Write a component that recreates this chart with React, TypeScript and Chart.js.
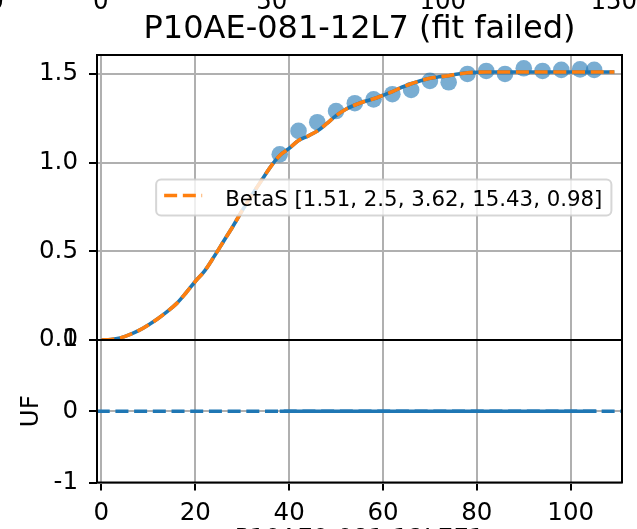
import React, { useEffect, useRef } from "react";
import { Chart, registerables } from "chart.js";

Chart.register(...registerables);

// ---- text ----
const TITLE = "P10AE-081-12L7 (fit failed)";
const X_LABEL = "P10AE0-081-12L7E1";
const LEGEND_LABEL = "BetaS [1.51, 2.5, 3.62, 15.43, 0.98]";
const UF_LABEL = "UF";

// ---- measured points (scatter) ----
const pointX = [38, 42, 46, 50, 54, 58, 62, 66, 70, 74, 78, 82, 86, 90, 94, 98, 102, 105];
const pointY = [1.047, 1.179, 1.228, 1.291, 1.335, 1.357, 1.386, 1.41, 1.461, 1.453, 1.5, 1.517, 1.5, 1.532, 1.517, 1.523, 1.526, 1.523];

// ---- data curve / fit curve (overlapping) ----
const curveX = [0, 2, 4, 6, 8, 10, 12, 14, 16, 18, 20, 22, 24, 26, 28, 30, 32, 34, 36, 38, 40, 42, 44, 46, 48, 50, 52, 54, 56, 58, 60, 62, 64, 66, 68, 70, 72, 74, 76, 78, 80, 82, 86, 90, 95, 100, 105, 109.3];
const curveY = [0, 0.003, 0.012, 0.03, 0.054, 0.085, 0.12, 0.16, 0.205, 0.265, 0.33, 0.39, 0.47, 0.555, 0.64, 0.73, 0.815, 0.895, 0.975, 1.04, 1.08, 1.125, 1.15, 1.178, 1.22, 1.265, 1.3, 1.325, 1.345, 1.36, 1.38, 1.4, 1.425, 1.445, 1.462, 1.476, 1.484, 1.49, 1.5, 1.507, 1.51, 1.511, 1.511, 1.511, 1.511, 1.511, 1.511, 1.511];

// ---- UF panel ----
const ufAxhX = [-1, 112];
const ufAxhY = [0, 0];
const ufResX = [38, 105.5];
const ufResY = [0, 0];

// ---- axes ----
const xTicks = [0, 20, 40, 60, 80, 100];
const xMin = -0.94;
const xMax = 110.93;
const yTicks = [0, 0.5, 1.0, 1.5];
const yTickLabels = ["0.0", "0.5", "1.0", "1.5"];
const yMin = 0;
const yMax = 1.607;
const ufTicks = [-1, 0, 1];
const ufTickLabels = ["-1", "0", "1"];
const ufMin = -1;
const ufMax = 1;
// partial tick labels of the (cropped) panel above
const topTicks = [0, 50, 100, 150];
const topTickLabels = ["0", "50", "100", "150"];
const topMin = -1.1;
const topMax = 152.4;

const BLUE = "#1f77b4";
const ORANGE = "#ff7f0e";
const FONT = '"DejaVu Sans", "Liberation Sans", sans-serif';
const TICK_SIZE = 24.5;

const toXY = (xs: number[], ys: number[]) => xs.map((x, i) => ({ x, y: ys[i] }));

const decorPlugin = {
  id: "decor",
  afterDatasetsDraw(chart: any) {
    const { ctx, chartArea } = chart;
    const yMain = chart.scales.y;
    const yUF = chart.scales.yUF;
    const xTop = chart.scales.xTop;
    ctx.save();
    // spines
    ctx.strokeStyle = "#000";
    ctx.lineWidth = 2;
    for (const s of [yMain, yUF]) {
      ctx.strokeRect(chartArea.left, s.top, chartArea.right - chartArea.left, s.bottom - s.top);
    }
    // legend
    ctx.font = `21.3px ${FONT}`;
    const tw = ctx.measureText(LEGEND_LABEL).width;
    const w = tw + 78;
    const h = 36;
    const x1 = chartArea.right - 10.6;
    const x0 = x1 - w;
    const cy = (yMain.top + yMain.bottom) / 2;
    const y0 = cy - h / 2;
    ctx.beginPath();
    (ctx as any).roundRect(x0, y0, w, h, 5);
    ctx.fillStyle = "rgba(255,255,255,0.8)";
    ctx.fill();
    ctx.strokeStyle = "rgba(204,204,204,0.8)";
    ctx.lineWidth = 2;
    ctx.stroke();
    ctx.beginPath();
    ctx.setLineDash([13, 5.7]);
    ctx.strokeStyle = ORANGE;
    ctx.lineWidth = 3.5;
    ctx.moveTo(x0 + 8, cy - 2);
    ctx.lineTo(x0 + 46, cy - 2);
    ctx.stroke();
    ctx.setLineDash([]);
    ctx.fillStyle = "#000";
    ctx.textAlign = "left";
    ctx.textBaseline = "alphabetic";
    ctx.fillText(LEGEND_LABEL, x0 + 69, cy + 8);
    // title
    ctx.font = `32px ${FONT}`;
    ctx.textAlign = "center";
    ctx.fillText(TITLE, (chartArea.left + chartArea.right) / 2, 38.3);
    // cropped tick labels of the panel above, placed by the top scale
    ctx.font = `${TICK_SIZE}px ${FONT}`;
    topTicks.forEach((v, i) => {
      ctx.fillText(topTickLabels[i], xTop.getPixelForValue(v), 9);
    });
    // fragment of a label of a neighbouring panel
    ctx.fillText("0", -4, 9);
    // x label (cropped at the bottom of the picture)
    ctx.fillText(X_LABEL, (chartArea.left + chartArea.right) / 2, 545.5);
    ctx.restore();
  },
};

export default function App() {
  const ref = useRef<HTMLCanvasElement>(null);
  useEffect(() => {
    document.body.style.margin = "0";
    const tickFont = { family: FONT, size: TICK_SIZE };
    const noSidePad = (s: any) => {
      s.paddingLeft = 0;
      s.paddingRight = 0;
    };
    const chart = new Chart(ref.current as HTMLCanvasElement, {
      type: "line",
      data: {
        datasets: [
          {
            label: LEGEND_LABEL,
            data: toXY(curveX, curveY),
            xAxisID: "x",
            yAxisID: "y",
            borderColor: ORANGE,
            borderWidth: 3.6,
            borderDash: [13, 5.7],
            pointRadius: 0,
            cubicInterpolationMode: "monotone",
            fill: false,
          },
          {
            label: "data",
            data: toXY(curveX, curveY),
            xAxisID: "x",
            yAxisID: "y",
            borderColor: BLUE,
            borderWidth: 3.6,
            pointRadius: 0,
            cubicInterpolationMode: "monotone",
            fill: false,
          },
          {
            label: "points",
            type: "scatter",
            data: toXY(pointX, pointY),
            xAxisID: "x",
            yAxisID: "y",
            backgroundColor: "rgba(31,119,180,0.6)",
            borderWidth: 0,
            pointRadius: 8.3,
            showLine: false,
          },
          {
            label: "uf-res",
            data: toXY(ufResX, ufResY),
            xAxisID: "x",
            yAxisID: "yUF",
            borderColor: BLUE,
            borderWidth: 3.6,
            pointRadius: 0,
            fill: false,
          },
          {
            label: "uf-axh",
            data: toXY(ufAxhX, ufAxhY),
            xAxisID: "x",
            yAxisID: "yUF",
            borderColor: BLUE,
            borderWidth: 3.6,
            borderDash: [13, 5.7],
            pointRadius: 0,
            fill: false,
          },
        ] as any,
      },
      options: {
        responsive: false,
        animation: false,
        events: [],
        layout: { padding: { left: 0, right: 15, top: 0, bottom: 0 } },
        plugins: { legend: { display: false }, tooltip: { enabled: false }, title: { display: false } },
        scales: {
          x: {
            type: "linear",
            position: "bottom",
            min: xMin,
            max: xMax,
            afterBuildTicks: (s: any) => {
              s.ticks = xTicks.map((v) => ({ value: v }));
            },
            afterFit: (s: any) => {
              s.height = 46.5;
              noSidePad(s);
            },
            grid: { color: "#b0b0b0", lineWidth: 2, tickColor: "#000", tickWidth: 2, tickLength: 8 },
            border: { display: false },
            ticks: {
              font: tickFont,
              color: "#000",
              padding: 8,
              maxRotation: 0,
              minRotation: 0,
              autoSkip: false,
              callback: (v: any) => String(v),
            },
          },
          xTop: {
            type: "linear",
            position: "top",
            min: topMin,
            max: topMax,
            afterBuildTicks: (s: any) => {
              s.ticks = topTicks.map((v) => ({ value: v }));
            },
            afterFit: (s: any) => {
              s.height = 55;
              noSidePad(s);
            },
            grid: { display: false },
            border: { display: false },
            ticks: { display: false },
          },
          y: {
            type: "linear",
            position: "left",
            stack: "panels",
            stackWeight: 2,
            weight: 1,
            min: yMin,
            max: yMax,
            afterBuildTicks: (s: any) => {
              s.ticks = yTicks.map((v) => ({ value: v }));
            },
            afterFit: (s: any) => {
              s.width = 97;
            },
            grid: { color: "#b0b0b0", lineWidth: 2, tickColor: "#000", tickWidth: 2, tickLength: 8 },
            border: { display: false },
            ticks: {
              font: tickFont,
              color: "#000",
              padding: 11,
              autoSkip: false,
              callback: (_v: any, i: number) => yTickLabels[i],
            },
          },
          yUF: {
            type: "linear",
            position: "left",
            stack: "panels",
            stackWeight: 1,
            weight: 0,
            min: ufMin,
            max: ufMax,
            afterBuildTicks: (s: any) => {
              s.ticks = ufTicks.map((v) => ({ value: v }));
            },
            afterFit: (s: any) => {
              s.width = 97;
            },
            grid: { color: "#b0b0b0", lineWidth: 2, tickColor: "#000", tickWidth: 2, tickLength: 8 },
            border: { display: false },
            title: {
              display: true,
              text: UF_LABEL,
              color: "#000",
              font: { family: FONT, size: TICK_SIZE },
              padding: { top: 17, bottom: 0 },
            },
            ticks: {
              font: tickFont,
              color: "#000",
              padding: 11,
              autoSkip: false,
              callback: (_v: any, i: number) => ufTickLabels[i],
            },
          },
        },
      } as any,
      plugins: [decorPlugin],
    });
    return () => chart.destroy();
  }, []);
  return (
    <div style={{ position: "fixed", left: 0, top: 0, width: 637, height: 529, background: "#fff" }}>
      <canvas ref={ref} width={637} height={529} style={{ display: "block" }} />
    </div>
  );
}
